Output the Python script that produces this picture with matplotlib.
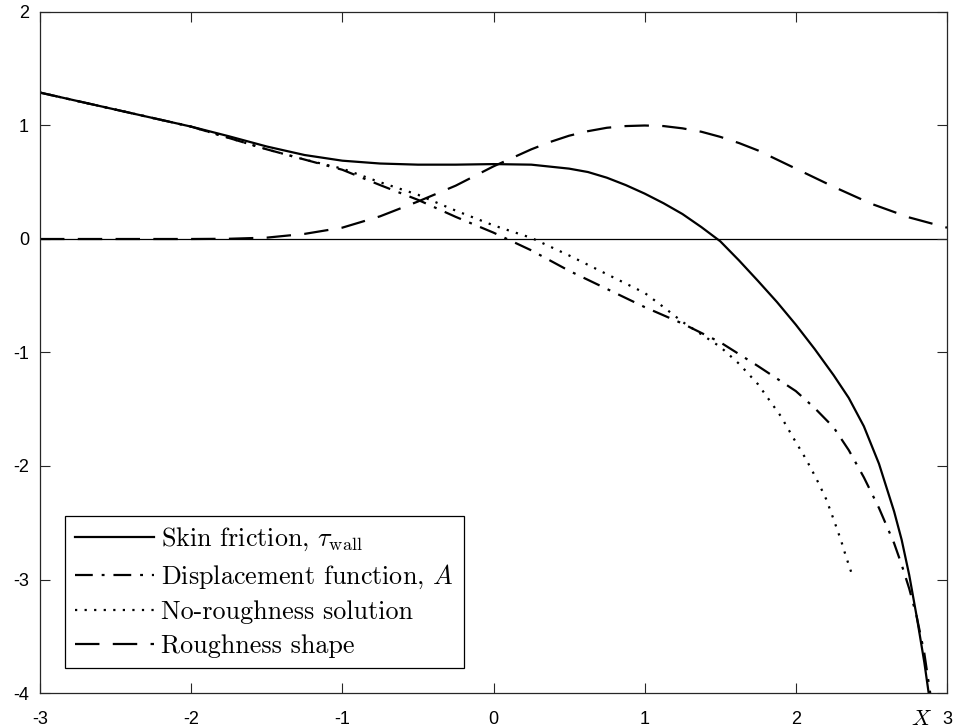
import matplotlib
matplotlib.use("Agg")
import matplotlib.pyplot as plt
from matplotlib import font_manager

# Skin friction tau_wall
x_tau = [-3.0, -2.75, -2.5, -2.25, -2.0, -1.75, -1.5, -1.25, -1.0, -0.75, -0.5,
         -0.25, 0.0, 0.25, 0.5, 0.625, 0.75, 0.875, 1.0, 1.125, 1.25, 1.375, 1.5,
         1.625, 1.75, 1.875, 2.0, 2.125, 2.25, 2.35, 2.45, 2.55, 2.65, 2.7,
         2.75, 2.8, 2.85, 2.9]
y_tau = [1.29, 1.215, 1.14, 1.065, 0.99, 0.905, 0.815, 0.74, 0.69, 0.665, 0.655,
         0.655, 0.66, 0.655, 0.62, 0.59, 0.54, 0.475, 0.40, 0.315, 0.22, 0.105, -0.02,
         -0.19, -0.37, -0.555, -0.755, -0.97, -1.20, -1.40, -1.65, -1.98, -2.40, -2.65,
         -2.96, -3.33, -3.73, -4.2]

# Displacement function A
x_disp = [-3.0, -2.5, -2.0, -1.75, -1.5, -1.25, -1.0, -0.75, -0.5, -0.25, 0.0,
          0.25, 0.5, 0.75, 1.0, 1.25, 1.5, 1.75, 2.0, 2.125, 2.25, 2.35, 2.45,
          2.55, 2.65, 2.7, 2.75, 2.8, 2.85, 2.9]
y_disp = [1.29, 1.14, 0.99, 0.89, 0.79, 0.70, 0.61, 0.475, 0.345, 0.195, 0.056,
          -0.10, -0.28, -0.44, -0.60, -0.745, -0.91, -1.12, -1.34, -1.49, -1.66, -1.86, -2.10,
          -2.37, -2.68, -2.87, -3.08, -3.33, -3.65, -4.1]

# Solution without roughness
x_flat = [-3.0, -2.5, -2.0, -1.75, -1.5, -1.25, -1.0, -0.75, -0.5, -0.25, 0.0,
          0.25, 0.5, 0.75, 1.0, 1.125, 1.25, 1.375, 1.5, 1.625, 1.75, 1.9, 2.0,
          2.05, 2.1, 2.15, 2.2, 2.25, 2.3, 2.33, 2.37]
y_flat = [1.29, 1.14, 0.99, 0.89, 0.79, 0.70, 0.62, 0.50, 0.39, 0.25, 0.12,
          0.01, -0.145, -0.31, -0.475, -0.60, -0.73, -0.84, -0.95, -1.10, -1.28, -1.56, -1.79,
          -1.90, -2.02, -2.15, -2.29, -2.47, -2.66, -2.79, -2.95]

# Roughness shape
x_rough = [-3.0, -2.5, -2.0, -1.75, -1.5, -1.25, -1.0, -0.75, -0.5, -0.25, -0.125,
           0.0, 0.125, 0.25, 0.375, 0.5, 0.625, 0.75, 0.875, 1.0, 1.125, 1.25,
           1.375, 1.5, 1.625, 1.75, 1.875, 2.0, 2.25, 2.5, 2.75, 3.0]
y_rough = [0.0, 0.0, 0.0, 0.002, 0.012, 0.045, 0.10, 0.20, 0.33, 0.47, 0.555,
           0.64, 0.715, 0.79, 0.855, 0.91, 0.95, 0.98, 0.995, 1.0, 0.995, 0.975,
           0.945, 0.90, 0.845, 0.78, 0.70, 0.62, 0.46, 0.31, 0.19, 0.10]

x_ticks = [-3, -2, -1, 0, 1, 2, 3]
y_ticks = [-4, -3, -2, -1, 0, 1, 2]

labels = [r"Skin friction, $\tau_{\mathrm{wall}}$",
          r"Displacement function, $A$",
          "No-roughness solution",
          "Roughness shape"]

names = {f.name for f in font_manager.fontManager.ttflist}
tick_font = "Liberation Sans" if "Liberation Sans" in names else "DejaVu Sans"

plt.rcParams["mathtext.fontset"] = "cm"
plt.rcParams["axes.unicode_minus"] = False

fig = plt.figure(figsize=(9.57, 7.28), dpi=100)
ax = fig.add_axes([40 / 957, 1 - 693 / 728, 907 / 957, 681 / 728])

ax.axhline(0, color="black", lw=0.9, zorder=1)

lw = 1.6
ax.plot(x_tau, y_tau, color="black", lw=lw, ls="-", label=labels[0])
ax.plot(x_disp, y_disp, color="black", lw=lw, ls=(0, (8, 4, 1.3, 4)), label=labels[1])
ax.plot(x_flat, y_flat, color="black", lw=lw, ls=(0, (1, 3.3)), label=labels[2])
ax.plot(x_rough, y_rough, color="black", lw=lw, ls=(0, (11, 6)), label=labels[3])

ax.set_xlim(-3, 3)
ax.set_ylim(-4, 2)
ax.set_xticks(x_ticks)
ax.set_yticks(y_ticks)
ax.set_xticklabels([str(v) for v in x_ticks], fontname=tick_font, fontsize=13)
ax.set_yticklabels([str(v) for v in y_ticks], fontname=tick_font, fontsize=13)
ax.tick_params(direction="in", length=7, width=0.8, top=True, right=True,
               colors="#262626", labelcolor="black")
ax.tick_params(axis="x", pad=13)
ax.tick_params(axis="y", pad=8)
for s in ax.spines.values():
    s.set_linewidth(0.9)
    s.set_color("#262626")

leg = ax.legend(loc="lower left", bbox_to_anchor=(0.028, 0.037), borderaxespad=0,
                prop={"family": "cmr10", "size": 18.8}, handlelength=3.0,
                handletextpad=0.3, labelspacing=0.37, borderpad=0.38,
                fancybox=False, framealpha=1, edgecolor="black")
leg.get_frame().set_linewidth(0.9)

fig.text(921 / 957, 1 - 719 / 728, r"$X$", fontsize=16, ha="center", va="center")

fig.savefig("out.png", dpi=100)
